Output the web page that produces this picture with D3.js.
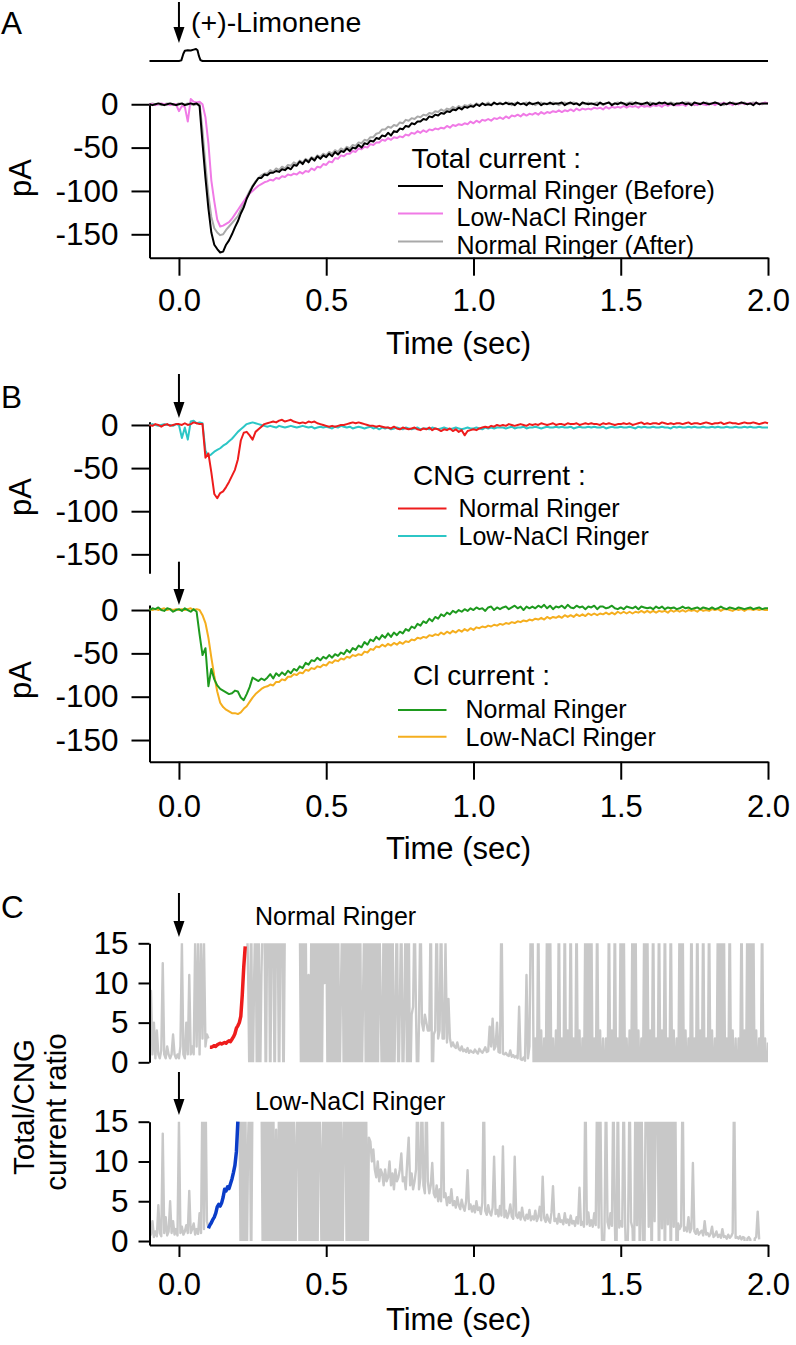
<!DOCTYPE html>
<html><head><meta charset="utf-8">
<script src="https://cdn.jsdelivr.net/npm/d3@7"></script>
<style>
body{margin:0;background:#fff}
text{font-family:"Liberation Sans",Arial,Helvetica,sans-serif;fill:#000}
</style>
</head><body>
<svg id="chart" width="796" height="1345"></svg>
<script>
// ---------------- DATA ----------------
// current traces sampled every 0.01 s starting at -0.1 s
const currentT0 = -0.1, currentDt = 0.01;
const timeTicks = [0, 0.5, 1.0, 1.5, 2.0];
const pATicks = [0, -50, -100, -150];
const ratioTicks = [0, 5, 10, 15];

const stimTimes  = [-0.1, 0.0, 0.008, 0.015, 0.02, 0.03, 0.04, 0.05, 0.058, 0.063, 0.068, 0.073, 0.08, 2.0];
const stimValues = [0, 0, 0.05, 0.6, 0.85, 0.9, 0.88, 0.95, 1.0, 0.9, 0.4, 0.08, 0, 0];

const totalBefore = [0,-1,0,1,0,-1,0,1,0,-1,
 0,1,-1,0,1,0,1,-2,-45,-85,
 -120,-148,-162,-167,-171,-170,-162,-157,-150,-142,
 -135,-126,-119,-109,-102,-95,-90,-85,-85,-81,
 -82,-79,-79,-77,-78,-75,-76,-73,-75,-70,
 -71,-66,-69,-64,-67,-62,-65,-60,-63,-59,
 -61,-57,-60,-55,-58,-54,-55,-51,-54,-50,
 -51,-47,-50,-45,-46,-42,-43,-39,-40,-36,
 -37,-33,-36,-31,-32,-28,-29,-25,-26,-22,
 -23,-20,-20,-17,-18,-14,-15,-12,-13,-10,
 -11,-8,-9,-6,-7,-4,-6,-3,-4,-2,
 -3,0,-2,1,-1,0,-1,2,0,1,
 0,2,0,1,-1,2,0,1,-1,2,
 0,1,2,-1,1,0,2,0,1,1,
 2,-1,1,2,0,1,-1,2,1,0,
 1,0,-1,2,0,1,2,-1,1,0,
 2,1,-1,1,0,2,1,0,1,2,
 -1,1,0,2,1,2,0,1,-1,1,
 1,2,0,1,-1,2,1,0,2,1,
 0,1,2,1,-1,1,0,2,1,0,
 1,2,1,0,1,-1,2,0,1,1,
 1];
const totalLowNaCl = [0,0,-1,0,1,0,0,-1,0,0,
 -8,-2,-3,-20,6,3,2,3,0,-15,
 -45,-88,-112,-133,-141,-140,-138,-136,-132,-127,
 -122,-117,-112,-107,-103,-100,-97,-94,-92,-90,
 -89,-87,-88,-85,-86,-83,-84,-81,-82,-80,
 -81,-78,-80,-77,-78,-74,-76,-72,-73,-69,
 -70,-66,-67,-62,-63,-59,-60,-57,-57,-54,
 -55,-51,-52,-49,-50,-46,-47,-44,-44,-41,
 -42,-39,-41,-38,-39,-37,-38,-35,-36,-33,
 -34,-31,-33,-30,-32,-29,-30,-28,-29,-27,
 -28,-25,-27,-24,-25,-23,-24,-22,-23,-20,
 -22,-19,-21,-18,-19,-17,-19,-16,-17,-15,
 -17,-14,-16,-13,-14,-12,-14,-11,-13,-11,
 -12,-10,-12,-9,-11,-9,-10,-8,-9,-7,
 -9,-7,-8,-6,-8,-5,-7,-5,-6,-5,
 -6,-4,-5,-4,-6,-3,-5,-3,-4,-3,
 -4,-2,-4,-2,-3,-2,-4,-1,-3,-2,
 -3,-1,-2,-1,-3,0,-2,0,-1,-1,
 -1,0,-2,1,-1,0,-1,1,0,-1,
 0,1,-1,1,0,2,0,1,-1,1,
 0,2,0,1,1,0,2,0,1,2,
 1];
const totalAfter = [0,1,0,0,-1,0,1,0,-1,0,
 1,0,0,1,0,-1,0,1,-30,-70,
 -105,-130,-143,-148,-151,-150,-145,-141,-137,-133,
 -129,-122,-115,-107,-100,-94,-89,-85,-82,-80,
 -80,-76,-78,-74,-76,-72,-74,-70,-71,-67,
 -69,-65,-67,-63,-65,-61,-63,-59,-61,-57,
 -59,-55,-57,-53,-55,-51,-53,-49,-51,-47,
 -48,-44,-45,-41,-42,-38,-38,-34,-33,-29,
 -29,-26,-27,-24,-25,-21,-22,-18,-19,-16,
 -17,-14,-15,-12,-13,-10,-11,-8,-9,-6,
 -8,-5,-6,-3,-5,-2,-4,-1,-2,0,
 -2,1,-1,1,0,2,-1,1,0,2,
 0,1,2,-1,1,2,0,1,2,0,
 1,-1,1,2,0,1,0,2,1,-1,
 1,2,0,1,2,1,-1,1,0,2,
 0,1,2,1,-1,1,2,0,1,2,
 1,0,1,2,2,0,1,1,-1,1,
 2,1,1,0,1,-1,1,2,1,0,
 0,1,2,2,1,-1,1,1,0,2,
 1,0,2,1,1,-1,1,0,2,1,
 0,1,2,0,1,2,1,1,0,1,
 1];

const cngNormal = [0,-1,1,0,-2,0,1,-1,0,1,
 1,0,2,0,1,3,2,1,1,-38,
 -33,-55,-80,-85,-79,-77,-72,-66,-59,-52,
 -40,-18,-9,-8,-12,-17,-8,-5,-2,1,
 2,3,4,3,5,6,4,5,6,4,
 3,2,3,2,4,3,4,2,1,0,
 -1,-2,-1,-2,-1,0,0,1,2,3,
 2,3,2,1,0,-1,-1,-2,-1,-2,
 -3,-3,-4,-2,-4,-5,-3,-4,-5,-4,
 -3,-5,-6,-4,-5,-3,-6,-4,-5,-7,
 -5,-6,-4,-7,-5,-8,-6,-12,-7,-6,
 -5,-6,-4,-3,-2,-3,-1,-2,0,-1,
 0,-1,1,0,-1,0,1,0,-1,1,
 0,1,0,2,1,0,1,2,0,1,
 1,0,2,1,1,2,0,1,2,1,
 2,1,1,0,2,1,2,1,0,1,
 1,2,1,2,0,1,2,3,1,2,
 1,2,2,1,3,2,1,2,1,2,
 2,1,2,3,1,2,2,1,2,3,
 2,1,2,2,3,1,2,3,2,2,
 1,2,3,2,2,3,2,1,2,3,
 2];
const cngLowNaCl = [0,1,0,-1,0,1,0,0,-1,1,
 0,-15,-3,-17,4,5,2,3,2,-30,
 -36,-34,-31,-29,-27,-24,-22,-19,-16,-12,
 -8,-5,-2,1,2,3,2,1,0,-1,
 -2,-1,-2,-3,-1,-2,-3,-2,-1,-2,
 -3,-2,-1,-2,-3,-2,-4,-3,-2,-3,
 -2,-3,-4,-2,-3,-1,-2,-3,-2,-4,
 -3,-2,-3,-4,-3,-2,-4,-3,-5,-3,
 -4,-3,-5,-4,-3,-4,-5,-3,-4,-5,
 -4,-3,-5,-4,-4,-5,-3,-4,-5,-4,
 -3,-4,-5,-4,-3,-4,-5,-4,-3,-4,
 -4,-3,-4,-5,-3,-4,-3,-4,-3,-3,
 -3,-4,-3,-2,-4,-3,-3,-2,-4,-3,
 -3,-2,-3,-4,-3,-2,-3,-3,-2,-3,
 -2,-3,-3,-2,-4,-3,-2,-3,-3,-2,
 -3,-2,-3,-3,-2,-4,-3,-2,-3,-3,
 -2,-3,-3,-2,-3,-4,-2,-3,-2,-3,
 -3,-2,-3,-3,-2,-3,-3,-4,-2,-3,
 -2,-3,-3,-2,-3,-2,-3,-3,-2,-3,
 -3,-2,-3,-2,-3,-3,-2,-3,-3,-2,
 -3,-3,-2,-3,-2,-3,-3,-2,-3,-3,
 -3];
const clNormal = [0,2,1,3,0,-1,2,1,-2,0,
 1,-1,2,0,-2,1,-2,-28,-52,-44,
 -88,-68,-80,-87,-91,-93,-95,-97,-96,-93,
 -94,-101,-104,-97,-89,-78,-80,-82,-79,-81,
 -78,-74,-79,-73,-76,-72,-75,-70,-73,-68,
 -70,-65,-67,-61,-63,-58,-59,-55,-58,-54,
 -56,-52,-55,-51,-53,-49,-51,-46,-49,-44,
 -46,-41,-43,-37,-40,-34,-36,-31,-34,-29,
 -32,-27,-31,-26,-29,-25,-27,-22,-24,-19,
 -21,-16,-18,-13,-15,-10,-13,-8,-10,-5,
 -7,-3,-5,-1,-3,0,-2,1,-1,2,
 0,3,1,2,-1,3,4,0,3,1,
 3,4,1,3,5,2,4,0,4,2,
 4,2,5,3,6,2,5,1,4,3,
 5,2,6,3,2,5,3,4,1,4,
 3,5,1,4,4,2,3,5,2,1,
 3,1,4,3,2,4,1,4,3,2,
 3,1,4,2,4,1,3,2,3,1,
 2,4,2,3,1,2,3,1,3,2,
 1,3,1,2,4,2,1,3,2,1,
 3,2,1,2,3,1,2,3,1,2,
 2];
const clLowNaCl = [1,0,1,0,1,2,0,1,0,1,
 0,1,0,1,2,0,1,0,-6,-15,
 -32,-55,-76,-94,-107,-112,-115,-117,-119,-119,
 -120,-118,-114,-111,-106,-101,-97,-94,-91,-89,
 -88,-86,-87,-83,-83,-80,-81,-77,-77,-74,
 -75,-72,-73,-69,-70,-67,-68,-65,-66,-63,
 -64,-60,-61,-58,-59,-56,-57,-54,-55,-52,
 -53,-51,-52,-48,-49,-45,-46,-42,-43,-40,
 -42,-39,-41,-38,-40,-37,-39,-36,-37,-34,
 -35,-32,-33,-31,-32,-29,-30,-28,-29,-26,
 -28,-25,-27,-24,-26,-23,-25,-22,-24,-21,
 -23,-20,-21,-19,-20,-18,-19,-17,-18,-16,
 -17,-15,-16,-14,-15,-13,-14,-12,-13,-11,
 -12,-10,-11,-9,-11,-8,-10,-8,-9,-7,
 -9,-6,-8,-6,-8,-5,-7,-5,-7,-4,
 -6,-4,-6,-4,-5,-3,-5,-3,-5,-2,
 -4,-2,-4,-2,-4,-2,-3,-1,-3,-1,
 -3,-1,-3,-1,-2,-1,-3,0,-2,0,
 -2,0,-2,0,-1,0,-2,1,-1,0,
 -1,1,0,1,-1,1,1,0,-1,1,
 0,1,-1,1,1,0,1,0,1,0,
 0];

// total/CNG ratio traces, sampled every 0.005 s starting at -0.1 s (values beyond 0..15 are off scale)
const ratioT0 = -0.1, ratioDt = 0.005;
const ratioNormal = [6,9,1,5,0.5,4,1,0.5,1.5,12.5,
 1,0.5,2,1,0.5,1,3.5,1,0.5,1,
 0.5,2,15,1,0.5,5,1,11,1,2,
 1,15,2,15,1,15,3,15,2,3.5,
 3,null,null,null,null,null,null,null,null,null,
 null,null,null,null,null,null,null,null,null,null,
 null,null,null,null,null,null,20,11,-5,20,
 -5,10,20,-5,20,-5,11,20,20,-5,
 20,20,-5,20,20,-5,20,20,-5,20,
 20,-5,20,20,20,20,20,20,20,20,
 20,20,20,-5,20,-5,20,-5,11,-5,
 20,-5,20,-5,20,-5,20,-5,20,10,
 20,-5,20,-5,20,-5,20,-5,20,-5,
 9,20,-5,20,-5,20,-5,20,-5,20,
 -5,20,-5,20,-5,8,20,-5,20,-5,
 20,-5,20,-5,20,-5,20,7,-5,20,
 -5,20,-5,20,-5,20,-5,7,20,-5,
 7,20,-5,6,20,-5,20,-5,6,7,
 20,6,-5,5,20,5,4,6,5,4,
 4,20,-5,3.5,4,20,3,4,20,3,
 3,15,2.5,8,3,2,2.5,2,1.8,2.5,
 1.7,1.5,2,1.4,1.6,1.3,1.8,1.2,1.5,1.3,
 1.2,1.6,1.3,1.1,1.7,1.4,1.2,1.5,1.9,1.3,
 1.4,4.5,2,5.5,1.6,2,5,1.3,1.2,20,
 1.1,1.0,1.2,0.9,0.8,1.5,0.7,0.9,0.6,0.8,
 0.5,7,0.4,0.3,0.6,0.2,11,0.5,2,20,
 20,-5,3,-5,20,-5,4,-5,3,-5,
 20,-5,20,-5,3,-5,4,-5,20,-5,
 3,-5,20,-5,4,-5,20,-5,3,-5,
 20,-5,4,-5,3,-5,20,-5,20,-5,
 20,-5,3,-5,20,-5,4,-5,3,-5,
 3,-5,20,-5,4,-5,20,-5,3,-5,
 20,-5,20,-5,3,-5,4,-5,20,-5,
 20,-5,4,-5,3,-5,20,-5,20,-5,
 4,-5,20,-5,3,-5,20,-5,4,-5,
 20,-5,3,-5,20,-5,4,-5,3,-5,
 20,-5,20,-5,4,-5,3,-5,20,-5,
 3,-5,20,-5,4,-5,20,-5,3,-5,
 20,-5,4,-5,3,-5,20,-5,20,-5,
 20,-5,3,-5,20,-5,4,-5,3,-5,
 3,-5,20,-5,4,-5,20,-5,20,-5,
 20,-5,4,-5,3,-5,20,-5,3,-5,
 2.5];
const ratioNormalEarlyT0 = 0.105;
const ratioNormalEarly = [1.9,1.9,2.0,2.1,2.0,2.2,2.3,2.4,2.3,2.4,2.5,2.4,2.6,2.7,2.6,2.9,3.2,3.6,4.3,4.6,5.0,5.8,8.5,12.0,14.6];

const ratioLowNaCl = [2.4,0.8,2.5,0.5,1.2,0.6,4.5,1,0.6,13.5,
 1,3,0.7,1.2,5,1,2.5,0.8,1.5,0.7,
 15,1,1.8,0.8,1.2,2,1,6.3,1,1.5,
 2.2,0.8,1.5,0.9,3.5,1,20,1.5,20,2.5,
 1.6,null,null,null,null,null,null,null,null,null,
 null,null,null,null,null,null,null,null,null,null,
 null,20,-5,20,-5,20,-5,13,20,-5,
 20,20,20,20,20,20,20,-5,20,-5,
 20,-5,20,-5,20,-5,14,-5,20,-5,
 20,-5,20,-5,20,-5,20,-5,20,-5,
 13,20,-5,20,-5,20,-5,20,-5,20,
 -5,20,-5,20,-5,20,12,-5,20,-5,
 20,-5,20,-5,20,-5,20,-5,20,-5,
 20,-5,14,20,-5,20,-5,20,-5,20,
 -5,20,-5,20,-5,20,-5,20,-5,13,
 12.5,10,11.5,9,8,10,7.5,9,8.5,7,
 9,7.5,8,10,7,8.5,6.5,9,7.5,8,
 9,11,7.5,8,6.5,10,13,7,8.5,6.5,
 7.5,9,20,6.5,8,20,7,6,20,7.5,
 6,7,9.8,6,5.5,7,5,6.5,5,20,
 5.5,6,4.5,5.5,4.8,6.5,4.5,5,4.2,5.5,
 4.5,4,5.2,4.3,3.8,5,8.9,4,4.6,3.7,
 4.4,3.6,5,3.9,4.2,3.4,4.8,20,3.8,3.3,
 4.5,3.6,3.2,4.2,10.6,3.4,3.9,3.1,4.4,3.2,
 11.9,3,3.8,2.9,3.5,4.6,3.1,2.8,10.6,3.2,
 2.9,3.6,2.7,4.2,3,2.6,3.3,2.8,3.9,2.6,
 3.1,2.7,3.8,2.5,3,4.3,2.6,8.1,2.9,2.4,
 3.3,2.6,2.3,3.6,6.9,2.5,2.8,2.2,3.4,2.4,
 2.6,2.1,3.5,2.3,2.7,2,3.2,2.2,2.5,1.9,
 3,2.2,6.7,2,2.4,1.8,20,2.1,3.6,1.9,
 2.6,1.8,3.5,2,20,1.7,20,2.3,-5,1.8,
 20,2.4,1.6,3.5,1.9,20,2.2,-5,20,1.7,
 2.5,1.8,20,2.1,-5,1.7,20,2.4,1.6,-5,
 20,2,20,-5,20,2.2,-5,20,20,1.8,
 20,-5,20,2.5,20,20,-5,20,1.6,20,
 -5,20,2.1,20,-5,20,1.8,20,-5,2.2,
 1.5,1.9,20,1.3,1.7,1.2,3,1.1,1.6,9.8,
 1.2,0.9,1.5,0.8,1.1,1.3,0.7,2.5,0.8,1,
 0.6,0.9,1.8,0.5,0.7,1.2,0.5,0.8,0.4,1.5,
 0.5,0.6,0.3,0.8,0.4,0.6,1,20,0.4,0.5,
 0.3,0.6,0.2,0.5,0.4,-5,0.3,0.5,0.2,-5,
 -5,0.3,0.5,3.7,0.2,null,null,null,null,null,
 null];
const ratioLowNaClEarlyT0 = 0.1;
const ratioLowNaClEarly = [1.6,2.0,2.3,2.7,3.0,3.5,4.3,4.6,4.4,4.8,5.5,6.5,6.3,6.8,6.6,7.2,7.8,8.6,9.5,11.2,15];

// ---------------- DRAWING ----------------
const FONT = '"Liberation Sans", Arial, Helvetica, sans-serif';
const TICK_FS = 31.5;
const svg = d3.select('#chart');
const x = d3.scaleLinear().domain([-0.1, 2.0]).range([149.5, 768]);
const toPts = (vals, t0, dt) => vals.map((v, i) => [t0 + i * dt, v]);

function styleAxis(g, fs) {
  g.attr('font-family', null).attr('font-size', null);
  g.select('.domain').attr('stroke', '#000').attr('stroke-width', 2);
  g.selectAll('.tick line').attr('stroke', '#000').attr('stroke-width', 2);
  g.selectAll('.tick text').attr('fill', '#000').style('font-size', fs + 'px').style('font-family', FONT);
}
function yAxis(y, ticks, size, pad) {
  const g = svg.append('g').attr('transform', `translate(${x.range()[0]},0)`)
    .call(d3.axisLeft(y).tickValues(ticks).tickSize(size).tickSizeOuter(0).tickPadding(pad).tickFormat(d => String(d)));
  styleAxis(g, TICK_FS);
}
function xAxis(yPos, size, pad) {
  const g = svg.append('g').attr('transform', `translate(0,${yPos})`)
    .call(d3.axisBottom(x).tickValues(timeTicks).tickSize(size).tickSizeOuter(0).tickPadding(pad).tickFormat(d3.format('.1f')));
  styleAxis(g, 31);
}
function trace(pts, y, color, width, clipId) {
  const line = d3.line().defined(d => d[1] !== null).x(d => x(d[0])).y(d => y(d[1]));
  const p = svg.append('path').datum(pts).attr('d', line).attr('fill', 'none')
    .attr('stroke', color).attr('stroke-width', width).attr('stroke-linejoin', 'round');
  if (clipId) p.attr('clip-path', `url(#${clipId})`);
}
function text(str, xx, yy, fs, anchor) {
  return svg.append('text').attr('x', xx).attr('y', yy).style('font-size', fs + 'px')
    .attr('text-anchor', anchor || 'start').text(str);
}
function vtext(str, xx, yy, fs) {
  return svg.append('text').attr('transform', `translate(${xx},${yy}) rotate(-90)`)
    .style('font-size', fs + 'px').attr('text-anchor', 'middle').text(str);
}
function arrow(y1, y2) {
  const xx = x(0);
  svg.append('line').attr('x1', xx).attr('x2', xx).attr('y1', y1).attr('y2', y2 - 12)
    .attr('stroke', '#000').attr('stroke-width', 2);
  svg.append('path').attr('d', `M${xx - 5.5},${y2 - 16}L${xx + 5.5},${y2 - 16}L${xx},${y2}Z`).attr('fill', '#000');
}
function legend(items, lineX1, lineX2, textX, fs) {
  items.forEach(it => {
    svg.append('line').attr('x1', lineX1).attr('x2', lineX2).attr('y1', it.y).attr('y2', it.y)
      .attr('stroke', it.color).attr('stroke-width', 2);
    text(it.label, textX, it.base, fs);
  });
}

// ----- Panel A -----
text('A', 1, 34, 31.5);
arrow(2, 43);
text('(+)-Limonene', 191, 32, 28.5);
const yStim = d3.scaleLinear().domain([0, 1]).range([61, 49]);
trace(stimTimes.map((t, i) => [t, stimValues[i]]), yStim, '#000', 2);

const yA = d3.scaleLinear().domain([-177, 1.8]).range([257.7, 102.7]);
yAxis(yA, pATicks, 18, 13);
xAxis(257.7, 18, 13.5);
vtext('pA', 31, 178, 31);
text('Time (sec)', 458.5, 354, 31, 'middle');
trace(toPts(totalAfter, currentT0, currentDt), yA, '#a9a9a9', 2);
trace(toPts(totalLowNaCl, currentT0, currentDt), yA, '#f07ae6', 2);
trace(toPts(totalBefore, currentT0, currentDt), yA, '#000', 2);
text('Total current :', 411.5, 168, 28);
legend([
  {label: 'Normal Ringer (Before)', color: '#000', y: 186, base: 198.5},
  {label: 'Low-NaCl Ringer', color: '#f07ae6', y: 213.5, base: 225.5},
  {label: 'Normal Ringer (After)', color: '#a9a9a9', y: 241.5, base: 253.5}
], 398, 443, 456.5, 25);

// ----- Panel B -----
text('B', 1, 408, 31.5);
arrow(374, 418);
const yB1 = d3.scaleLinear().domain([-172, 3.8]).range([573.3, 421.7]);
yAxis(yB1, pATicks, 18, 13);
vtext('pA', 31, 497, 31);
trace(toPts(cngLowNaCl, currentT0, currentDt), yB1, '#2cc6c6', 2);
trace(toPts(cngNormal, currentT0, currentDt), yB1, '#ee1c1c', 2);
text('CNG current :', 413, 485, 28);
legend([
  {label: 'Normal Ringer', color: '#ee1c1c', y: 508.5, base: 517},
  {label: 'Low-NaCl Ringer', color: '#2cc6c6', y: 536, base: 544.5}
], 398, 446.5, 458.5, 25);

arrow(561.7, 605);
const yB2 = d3.scaleLinear().domain([-175, 5.8]).range([761.7, 605]);
yAxis(yB2, pATicks, 18, 13);
xAxis(761.7, 18, 15.5);
vtext('pA', 31, 680, 31);
text('Time (sec)', 458.5, 859, 31, 'middle');
trace(toPts(clLowNaCl, currentT0, currentDt), yB2, '#f5ae1e', 2);
trace(toPts(clNormal, currentT0, currentDt), yB2, '#1e9a1e', 2);
text('Cl current :', 413, 685, 28);
legend([
  {label: 'Normal Ringer', color: '#1e9a1e', y: 710, base: 717.5},
  {label: 'Low-NaCl Ringer', color: '#f5ae1e', y: 736.7, base: 746}
], 398, 446.5, 465.5, 25);

// ----- Panel C -----
text('C', 1, 918, 31.5);
const defs = svg.append('defs');
const yC1 = d3.scaleLinear().domain([0, 15]).range([1062.3, 943.3]);
const yC2 = d3.scaleLinear().domain([-0.5, 15]).range([1245, 1121.7]);
defs.append('clipPath').attr('id', 'clipC1').append('rect')
  .attr('x', x.range()[0]).attr('y', yC1(15)).attr('width', x.range()[1] - x.range()[0]).attr('height', yC1(0) - yC1(15));
defs.append('clipPath').attr('id', 'clipC2').append('rect')
  .attr('x', x.range()[0]).attr('y', yC2(15)).attr('width', x.range()[1] - x.range()[0]).attr('height', yC2(0) - yC2(15));

arrow(893, 937);
text('Normal Ringer', 255, 925, 25);
trace(toPts(ratioNormal, ratioT0, ratioDt), yC1, '#c8c8c8', 2.4, 'clipC1');
trace(toPts(ratioNormalEarly, ratioNormalEarlyT0, ratioDt), yC1, '#ee1c1c', 3.5);
yAxis(yC1, ratioTicks, 11, 10);

arrow(1072, 1115);
text('Low-NaCl Ringer', 255, 1110, 25);
trace(toPts(ratioLowNaCl, ratioT0, ratioDt), yC2, '#c8c8c8', 2.4, 'clipC2');
trace(toPts(ratioLowNaClEarly, ratioLowNaClEarlyT0, ratioDt), yC2, '#0a3cc8', 3.5);
{
  const g = svg.append('g').attr('transform', `translate(${x.range()[0]},0)`)
    .call(d3.axisLeft(yC2).tickValues(ratioTicks).tickSize(11).tickSizeOuter(0).tickPadding(10).tickFormat(d => String(d)));
  styleAxis(g, TICK_FS);
}
xAxis(1245, 12, 15.5);
text('Time (sec)', 458.5, 1330, 31, 'middle');
vtext('Total/CNG', 34, 1107, 29.5);
vtext('current ratio', 66, 1112, 29.5);
</script>
</body></html>
